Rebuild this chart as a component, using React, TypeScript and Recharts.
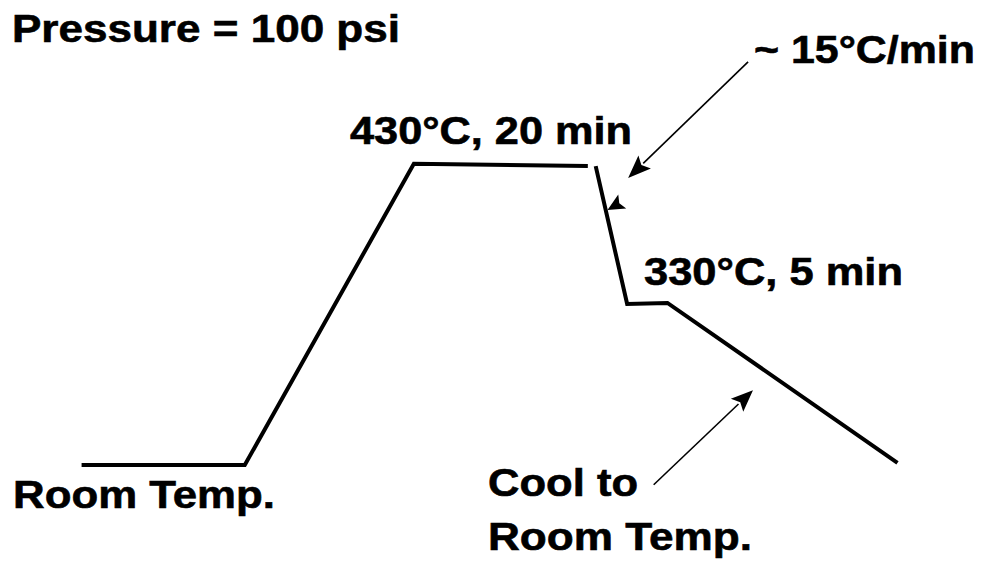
import React from "react";
import { LineChart, Line, XAxis, YAxis, ReferenceLine, Customized } from "recharts";

// Schematic heating profile (relative units, 0-100 on both axes)
const heatUpPoints = [
  { t: 8.3, temp: 17.4 },
  { t: 24.9, temp: 17.4 },
  { t: 42.1, temp: 70.9 },
  { t: 59.8, temp: 70.5 },
];
const coolDownPoints = [
  { t: 60.6, temp: 70.5 },
  { t: 63.8, temp: 46.0 },
  { t: 67.9, temp: 46.2 },
  { t: 91.3, temp: 17.8 },
];

// Annotation arrows: [from, to(tip)]
const rateArrow = [{ x: 76.1, y: 89.0 }, { x: 63.9, y: 68.4 }];
const coolArrow = [{ x: 66.5, y: 13.9 }, { x: 76.6, y: 30.7 }];
const tickArrow = [{ x: 63.3, y: 64.2 }, { x: 61.8, y: 62.7 }];

const labels = [
  { text: "Pressure = 100 psi", x: 12, y: 42, w: 388 },
  { text: "430°C, 20 min", x: 350, y: 144, w: 282 },
  { text: "~ 15°C/min", x: 754, y: 63, w: 221 },
  { text: "330°C, 5 min", x: 644, y: 285, w: 259 },
  { text: "Room Temp.", x: 13, y: 508, w: 262 },
  { text: "Cool to", x: 488, y: 496, w: 150 },
  { text: "Room Temp.", x: 488, y: 550, w: 264 },
];

const W = 983;
const H = 563;

function arrowShape(headLen: number, headHalf: number, sw: number) {
  return (p: any) => {
    const { x1, y1, x2, y2 } = p;
    const dx = x2 - x1;
    const dy = y2 - y1;
    const len = Math.sqrt(dx * dx + dy * dy) || 1;
    const ux = dx / len;
    const uy = dy / len;
    const hl = Math.min(headLen, len);
    const bx = x2 - ux * hl;
    const by = y2 - uy * hl;
    const px = -uy * headHalf;
    const py = ux * headHalf;
    return (
      <g>
        {len > hl + 0.5 && (
          <line x1={x1} y1={y1} x2={bx + ux * 2} y2={by + uy * 2} stroke="#000" strokeWidth={sw} />
        )}
        <polygon
          points={`${x2},${y2} ${bx + px},${by + py} ${bx + ux * hl * 0.2},${by + uy * hl * 0.2} ${bx - px},${by - py}`}
          fill="#000"
        />
      </g>
    );
  };
}

const Texts = () => (
  <g>
    {labels.map((l, i) => (
      <text
        key={i}
        x={l.x}
        y={l.y}
        fontFamily="'Liberation Sans', Arial, sans-serif"
        fontWeight={700}
        fontSize={39}
        fill="#000"
        stroke="#000"
        strokeWidth={0.6}
        textLength={l.w}
        lengthAdjust="spacingAndGlyphs"
      >
        {l.text}
      </text>
    ))}
  </g>
);

export default function App() {
  return (
    <div style={{ position: "absolute", left: 0, top: 0, width: W, height: H, background: "#fff" }}>
      <LineChart width={W} height={H} margin={{ top: 0, right: 0, bottom: 0, left: 0 }}>
        <XAxis type="number" dataKey="t" domain={[0, 100]} hide allowDataOverflow />
        <YAxis type="number" dataKey="temp" domain={[0, 100]} hide allowDataOverflow />
        <Line
          data={heatUpPoints}
          dataKey="temp"
          type="linear"
          stroke="#000"
          strokeWidth={4}
          dot={false}
          activeDot={false}
          isAnimationActive={false}
        />
        <Line
          data={coolDownPoints}
          dataKey="temp"
          type="linear"
          stroke="#000"
          strokeWidth={4}
          dot={false}
          activeDot={false}
          isAnimationActive={false}
        />
        <ReferenceLine segment={rateArrow} ifOverflow="visible" shape={arrowShape(23, 9, 1.6)} />
        <ReferenceLine segment={coolArrow} ifOverflow="visible" shape={arrowShape(22, 9, 1.6)} />
        <ReferenceLine segment={tickArrow} ifOverflow="visible" shape={arrowShape(20, 8, 1.6)} />
        <Customized component={Texts} />
      </LineChart>
    </div>
  );
}
